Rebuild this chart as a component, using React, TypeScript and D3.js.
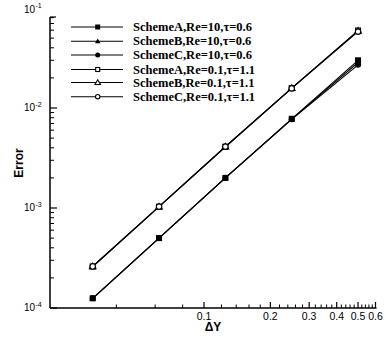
import React from 'react';
import * as d3 from 'd3';

// grid spacing (x) and error values
const dy = [1 / 32, 1 / 16, 1 / 8, 1 / 4, 1 / 2];
const schemeA_Re10 = [1.25e-4, 5.0e-4, 2.0e-3, 7.8e-3, 3.0e-2];
const schemeB_Re10 = [1.25e-4, 5.0e-4, 2.0e-3, 7.75e-3, 2.85e-2];
const schemeC_Re10 = [1.25e-4, 5.0e-4, 2.0e-3, 7.7e-3, 2.7e-2];
const schemeA_Re01 = [2.6e-4, 1.03e-3, 4.1e-3, 1.58e-2, 5.95e-2];
const schemeB_Re01 = [2.6e-4, 1.03e-3, 4.1e-3, 1.58e-2, 5.9e-2];
const schemeC_Re01 = [2.6e-4, 1.03e-3, 4.1e-3, 1.57e-2, 5.8e-2];

const seriesNames = [
	'SchemeA,Re=10,τ=0.6',
	'SchemeB,Re=10,τ=0.6',
	'SchemeC,Re=10,τ=0.6',
	'SchemeA,Re=0.1,τ=1.1',
	'SchemeB,Re=0.1,τ=1.1',
	'SchemeC,Re=0.1,τ=1.1',
];
const seriesValues = [schemeA_Re10, schemeB_Re10, schemeC_Re10, schemeA_Re01, schemeB_Re01, schemeC_Re01];
const seriesMarkers = ['square', 'triangle', 'circle', 'square', 'triangle', 'circle'];
const seriesFilled = [true, true, true, false, false, false];

const xMajor = [0.1, 0.2, 0.3, 0.4, 0.5, 0.6];
const xMinor = [0.04, 0.06, 0.08, 0.12, 0.14, 0.16, 0.18, 0.22, 0.24, 0.26, 0.28, 0.32, 0.34, 0.36, 0.38, 0.42, 0.44, 0.46, 0.48, 0.52, 0.54, 0.56, 0.58];
const yExponents = [-1, -2, -3, -4];

const W = 385;
const H = 338;
const left = 50;
const right = 375.5;
const top = 17;
const bottom = 308;

const Marker = ({ kind, filled, x, y, s }: { kind: string; filled: boolean; x: number; y: number; s: number }) => {
	const fill = filled ? '#000' : '#fff';
	const sw = filled ? 0 : 1.1;
	if (kind === 'square') {
		const a = filled ? s : s - 1;
		return <rect x={x - a / 2} y={y - a / 2} width={a} height={a} fill={fill} stroke="#000" strokeWidth={sw} />;
	}
	if (kind === 'triangle') {
		const a = s * 0.55;
		return (
			<path
				d={`M${x},${y - a} L${x + a},${y + a * 0.7} L${x - a},${y + a * 0.7} Z`}
				fill={fill}
				stroke="#000"
				strokeWidth={sw}
			/>
		);
	}
	return <circle cx={x} cy={y} r={filled ? s / 2 : s / 2 - 0.3} fill={fill} stroke="#000" strokeWidth={sw} />;
};

export default function App() {
	const xScale = d3.scaleLog().domain([0.02, 0.6]).range([left, right]);
	const yScale = d3.scaleLog().domain([1e-4, 1e-1]).range([bottom, bottom - 300]);

	const yMinor: number[] = [];
	[-4, -3, -2].forEach(e => {
		for (let m = 2; m <= 9; m++) {
			const v = m * Math.pow(10, e);
			if (yScale(v) >= top - 0.5) yMinor.push(v);
		}
	});

	const line = d3
		.line<number>()
		.x((d, i) => xScale(dy[i]))
		.y(d => yScale(d));

	const legendY = [27, 41.3, 55, 69.5, 82.5, 96.7];

	return (
		<div style={{ position: 'absolute', left: 0, top: 0 }}>
			<svg width={W} height={H} style={{ display: 'block', background: '#fff' }}>
				{/* axes */}
				<line x1={left} x2={left} y1={top} y2={bottom} stroke="#000" strokeWidth={1.5} />
				<line x1={left} x2={right + 1} y1={bottom} y2={bottom} stroke="#000" strokeWidth={1.5} />
				<line x1={left} x2={left + 6} y1={top} y2={top} stroke="#000" strokeWidth={1.2} />

				{yExponents.map(e => {
					const y = yScale(Math.pow(10, e));
					return (
						<g key={'ye' + e}>
							{y >= top && <line x1={left} x2={left + 7} y1={y} y2={y} stroke="#000" strokeWidth={1.2} />}
							<text
								x={35}
								y={y + 3 + (e === -1 ? 1.5 : 0)}
								textAnchor="end"
								fontFamily="Liberation Sans, Arial, sans-serif"
								fontSize={10}
								fill="#000"
							>
								10
							</text>
							<text
								x={35.5}
								y={y - 1.5 + (e === -1 ? 1.5 : 0)}
								fontFamily="Liberation Sans, Arial, sans-serif"
								fontSize={7}
								fill="#000"
							>
								{'-' + Math.abs(e)}
							</text>
						</g>
					);
				})}
				{yMinor.map(v => (
					<line key={'ym' + v} x1={left} x2={left + 4} y1={yScale(v)} y2={yScale(v)} stroke="#000" strokeWidth={1} />
				))}

				{xMajor.map(v => (
					<g key={'xM' + v}>
						<line x1={xScale(v)} x2={xScale(v)} y1={bottom} y2={bottom - 6} stroke="#000" strokeWidth={1.2} />
						<text
							x={xScale(v)}
							y={320}
							textAnchor="middle"
							fontFamily="Liberation Sans, Arial, sans-serif"
							fontSize={10.5}
							fill="#000"
						>
							{String(v)}
						</text>
					</g>
				))}
				{xMinor.map(v => (
					<line key={'xm' + v} x1={xScale(v)} x2={xScale(v)} y1={bottom} y2={bottom - 3.5} stroke="#000" strokeWidth={1} />
				))}

				{/* axis titles */}
				<text
					x={213}
					y={331}
					textAnchor="middle"
					fontFamily="Liberation Sans, Arial, sans-serif"
					fontWeight="bold"
					fontSize={12}
					fill="#000"
				>
					ΔY
				</text>
				<text
					transform={`translate(23, ${163}) rotate(-90)`}
					textAnchor="middle"
					fontFamily="Liberation Sans, Arial, sans-serif"
					fontWeight="bold"
					fontSize={12}
					fill="#000"
				>
					Error
				</text>

				{/* series lines */}
				{seriesValues.map((vals, i) => (
					<path key={'l' + i} d={line(vals) || ''} fill="none" stroke="#000" strokeWidth={1.1} />
				))}
				{seriesValues.map((vals, i) =>
					vals.map((v, j) => (
						<Marker key={'m' + i + '-' + j} kind={seriesMarkers[i]} filled={seriesFilled[i]} x={xScale(dy[j])} y={yScale(v)} s={6} />
					))
				)}

				{/* legend */}
				{seriesNames.map((name, i) => (
					<g key={'lg' + i}>
						<line x1={71} x2={123} y1={legendY[i]} y2={legendY[i]} stroke="#000" strokeWidth={1.1} />
						<Marker kind={seriesMarkers[i]} filled={seriesFilled[i]} x={97.7} y={legendY[i]} s={5} />
						<text
							x={133}
							y={legendY[i] + 4}
							fontFamily="Liberation Serif, Times New Roman, serif"
							fontWeight="bold"
							fontSize={12.5}
							fill="#000"
						>
							{name}
						</text>
					</g>
				))}
			</svg>
		</div>
	);
}
